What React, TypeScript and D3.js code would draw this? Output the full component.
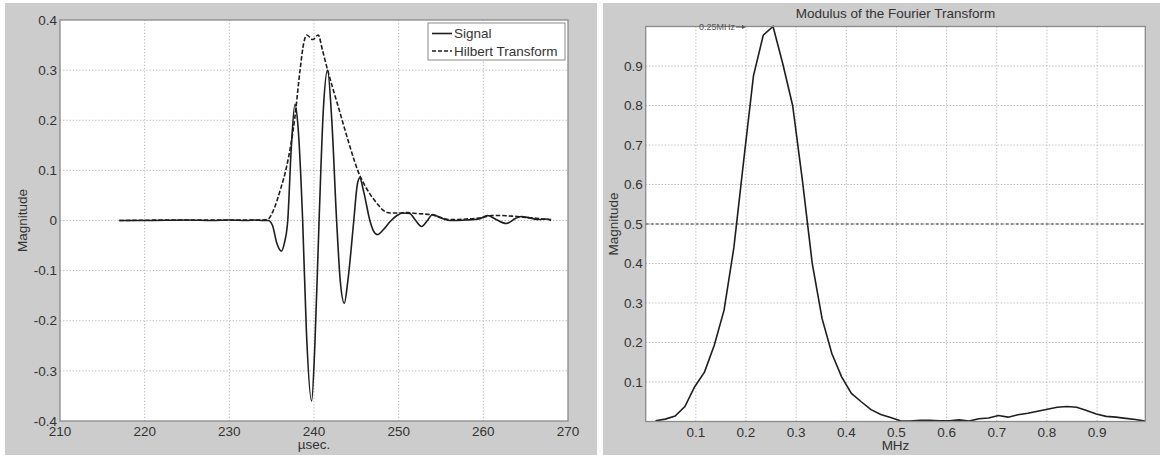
import React from "react";
import * as d3 from "d3";

// ---------- Left panel data ----------
const timeTicks = [210, 220, 230, 240, 250, 260, 270];
const magTicksLeft = [-0.4, -0.3, -0.2, -0.1, 0, 0.1, 0.2, 0.3, 0.4];
const magTickLabelsLeft = ["-0.4", "-0.3", "-0.2", "-0.1", "0", "0.1", "0.2", "0.3", "0.4"];

const signalT = [217, 220, 225, 228, 230, 232, 233, 234, 234.6, 235.1, 235.6, 236.15, 236.5, 236.9, 237.3, 237.75, 238.1, 238.66, 239.1, 239.72, 240.1, 240.6, 241.1, 241.6, 242.1, 242.67, 243.1, 243.58, 244.0, 244.7, 245.1, 245.4, 245.9, 246.6, 247.0, 247.5, 248.2, 249.0, 249.8, 250.5, 251.3, 252.0, 252.7, 253.4, 254.0, 255.0, 256.0, 258.0, 259.5, 260.5, 261.5, 262.7, 263.8, 264.5, 265.5, 266.5, 267.5, 268.0];
const signalV = [0, 0, 0.001, 0, 0.001, 0, 0.001, 0, 0, -0.01, -0.045, -0.061, -0.045, 0.0, 0.14, 0.232, 0.19, 0.0, -0.22, -0.36, -0.25, 0.0, 0.22, 0.3, 0.2, 0.0, -0.12, -0.165, -0.12, 0.0, 0.07, 0.085, 0.055, 0.0, -0.02, -0.028, -0.018, -0.002, 0.01, 0.015, 0.014, 0.0, -0.012, 0.0, 0.012, 0.005, 0.0, 0.001, 0.003, 0.01, 0.002, -0.006, 0.004, 0.008, 0.005, 0.002, 0.003, 0.0];

const hilbertT = [217, 225, 230, 234, 234.6, 235.2, 236.0, 236.8, 237.75, 238.35, 238.8, 239.14, 239.85, 240.5, 241.0, 241.5, 242.2, 242.87, 243.5, 244.25, 245.4, 246.0, 246.6, 247.5, 248.2, 249.0, 250, 251, 252, 253, 254, 255, 256, 257, 258, 259, 260, 261, 262, 263, 264, 265, 266, 267, 268];
const hilbertV = [0, 0.001, 0.001, 0.001, 0.003, 0.02, 0.06, 0.11, 0.207, 0.3, 0.355, 0.37, 0.361, 0.37, 0.34, 0.307, 0.265, 0.227, 0.19, 0.147, 0.09, 0.07, 0.053, 0.033, 0.02, 0.015, 0.015, 0.016, 0.014, 0.013, 0.011, 0.006, 0.002, 0.002, 0.003, 0.004, 0.006, 0.01, 0.01, 0.009, 0.008, 0.006, 0.005, 0.003, 0.002];

// ---------- Right panel data ----------
const freqTicks = [0.1, 0.2, 0.3, 0.4, 0.5, 0.6, 0.7, 0.8, 0.9];
const freqTickLabels = ["0.1", "0.2", "0.3", "0.4", "0.5", "0.6", "0.7", "0.8", "0.9"];
const magTicksRight = [0.1, 0.2, 0.3, 0.4, 0.5, 0.6, 0.7, 0.8, 0.9];
const magTickLabelsRight = ["0.1", "0.2", "0.3", "0.4", "0.5", "0.6", "0.7", "0.8", "0.9"];
const freqStep = 1 / 51.2;
const spectrumIndex = [1, 2, 3, 4, 5, 6, 7, 8, 9, 10, 11, 12, 13, 14, 15, 16, 17, 18, 19, 20, 21, 22, 23, 24, 25, 26, 27, 28, 29, 30, 31, 32, 33, 34, 35, 36, 37, 38, 39, 40, 41, 42, 43, 44, 45, 46, 47, 48, 49, 50, 51];
const spectrumV = [0.002, 0.006, 0.014, 0.038, 0.088, 0.125, 0.193, 0.282, 0.44, 0.66, 0.875, 0.978, 1.0, 0.905, 0.8, 0.61, 0.4, 0.261, 0.172, 0.113, 0.071, 0.05, 0.03, 0.018, 0.01, 0.002, 0.001, 0.003, 0.003, 0.002, 0.002, 0.004, 0.001, 0.007, 0.009, 0.015, 0.011, 0.017, 0.021, 0.026, 0.031, 0.036, 0.038, 0.036, 0.028, 0.019, 0.013, 0.011, 0.008, 0.005, 0.001];
const halfLevel = 0.5;
const peakLabel = "0.25MHz";
const peakLabelX = 0.2;
const peakLabelY = 1.0;

const FONT = "'Liberation Sans', Arial, Helvetica, sans-serif";
const BG = "#cccccc";
const AXIS = "#8a8a8a";
const GRID = "#b4b4b4";
const INK = "#1e1e1e";
const FS = 13.5;

export default function App() {
  // Left geometry
  const L = { x0: 60, x1: 568, y0: 20, y1: 421 };
  const xL = d3.scaleLinear().domain([210, 270]).range([L.x0, L.x1]);
  const yL = d3.scaleLinear().domain([-0.4, 0.4]).range([L.y1, L.y0]);
  const lineL = d3
    .line<number>()
    .x((_, i) => xL(signalT[i]))
    .y((v) => yL(v))
    .curve(d3.curveMonotoneX);
  const lineH = d3
    .line<number>()
    .x((_, i) => xL(hilbertT[i]))
    .y((v) => yL(v))
    .curve(d3.curveMonotoneX);

  // Right geometry
  const R = { x0: 645.7, x1: 1145.3, y0: 26.5, y1: 421.5 };
  const xR = d3.scaleLinear().domain([0, 51 * freqStep]).range([R.x0, R.x1]);
  const yR = d3.scaleLinear().domain([0, 1]).range([R.y1, R.y0]);
  const lineR = d3
    .line<number>()
    .x((_, i) => xR(spectrumIndex[i] * freqStep))
    .y((v) => yR(v));

  const arrowEnd = xR(peakLabelX);
  const arrowY = yR(peakLabelY) + 0.5;

  return (
    <svg
      width={1162}
      height={456}
      style={{ position: "absolute", left: 0, top: 0, background: "#fff" }}
      fontFamily={FONT}
    >
      {/* Backgrounds */}
      <rect x={5} y={3} width={592} height={452} fill={BG} />
      <rect x={603} y={3} width={557} height={452} fill={BG} />

      {/* ===== Left panel ===== */}
      <rect x={L.x0} y={L.y0} width={L.x1 - L.x0} height={L.y1 - L.y0} fill="#fff" />
      <g stroke={GRID} strokeWidth={1} strokeDasharray="1.2,2">
        {timeTicks.slice(1, -1).map((t) => (
          <line key={"gx" + t} x1={xL(t)} x2={xL(t)} y1={L.y0} y2={L.y1} />
        ))}
        {magTicksLeft.slice(1, -1).map((m) => (
          <line key={"gy" + m} x1={L.x0} x2={L.x1} y1={yL(m)} y2={yL(m)} />
        ))}
      </g>
      <path d={lineH(hilbertV) || ""} fill="none" stroke={INK} strokeWidth={1.6} strokeDasharray="4.5,2" />
      <path d={lineL(signalV) || ""} fill="none" stroke={INK} strokeWidth={1.6} />
      <rect x={L.x0} y={L.y0} width={L.x1 - L.x0} height={L.y1 - L.y0} fill="none" stroke={AXIS} strokeWidth={1.3} />
      <g fontSize={FS} fill="#333">
        {magTicksLeft.map((m, i) => (
          <text key={"yl" + m} x={L.x0 - 3} y={yL(m)} dy="0.35em" textAnchor="end">
            {magTickLabelsLeft[i]}
          </text>
        ))}
        {timeTicks.map((t) => (
          <text key={"xl" + t} x={xL(t)} y={L.y1 + 15} textAnchor="middle">
            {String(t)}
          </text>
        ))}
        <text x={(L.x0 + L.x1) / 2} y={L.y1 + 28} textAnchor="middle">µsec.</text>
        <text transform={`translate(27,${(L.y0 + L.y1) / 2}) rotate(-90)`} textAnchor="middle">
          Magnitude
        </text>
      </g>
      {/* Legend */}
      <g>
        <rect x={428} y={23} width={137} height={37} fill="#fff" stroke={AXIS} strokeWidth={1} />
        <line x1={432} x2={452} y1={33.5} y2={33.5} stroke={INK} strokeWidth={1.6} />
        <line x1={432} x2={452} y1={51} y2={51} stroke={INK} strokeWidth={1.6} strokeDasharray="4,2" />
        <text x={454} y={33.5} dy="0.35em" fontSize={FS} fill="#333">Signal</text>
        <text x={454} y={51} dy="0.35em" fontSize={FS} fill="#333">Hilbert Transform</text>
      </g>

      {/* ===== Right panel ===== */}
      <rect x={R.x0} y={R.y0} width={R.x1 - R.x0} height={R.y1 - R.y0} fill="#fff" />
      <g stroke={GRID} strokeWidth={1} strokeDasharray="1.2,2">
        {freqTicks.map((f) => (
          <line key={"rgx" + f} x1={xR(f)} x2={xR(f)} y1={R.y0} y2={R.y1} />
        ))}
        {magTicksRight.map((m) => (
          <line key={"rgy" + m} x1={R.x0} x2={R.x1} y1={yR(m)} y2={yR(m)} />
        ))}
      </g>
      <line x1={R.x0} x2={R.x1} y1={yR(halfLevel)} y2={yR(halfLevel)} stroke="#333" strokeWidth={1.2} strokeDasharray="3,2" />
      <path d={lineR(spectrumV) || ""} fill="none" stroke={INK} strokeWidth={1.6} />
      <rect x={R.x0} y={R.y0} width={R.x1 - R.x0} height={R.y1 - R.y0} fill="none" stroke={AXIS} strokeWidth={1.3} />
      {/* Peak annotation: text + arrow */}
      <text x={arrowEnd - 11} y={arrowY} dy="0.35em" textAnchor="end" fontSize={9} fill="#555">
        {peakLabel}
      </text>
      <line x1={arrowEnd - 10} x2={arrowEnd - 2} y1={arrowY} y2={arrowY} stroke="#555" strokeWidth={1} />
      <path d={`M${arrowEnd} ${arrowY} L${arrowEnd - 4} ${arrowY - 2} L${arrowEnd - 4} ${arrowY + 2} Z`} fill="#555" />
      <g fontSize={FS} fill="#333">
        {magTicksRight.map((m, i) => (
          <text key={"ryl" + m} x={R.x0 - 3} y={yR(m)} dy="0.35em" textAnchor="end">
            {magTickLabelsRight[i]}
          </text>
        ))}
        {freqTicks.map((f, i) => (
          <text key={"rxl" + f} x={xR(f)} y={R.y1 + 15} textAnchor="middle">
            {freqTickLabels[i]}
          </text>
        ))}
        <text x={(R.x0 + R.x1) / 2} y={R.y1 + 28} textAnchor="middle">MHz</text>
        <text transform={`translate(618,${(R.y0 + R.y1) / 2}) rotate(-90)`} textAnchor="middle">
          Magnitude
        </text>
        <text x={(R.x0 + R.x1) / 2} y={18} textAnchor="middle">Modulus of the Fourier Transform</text>
      </g>
    </svg>
  );
}
